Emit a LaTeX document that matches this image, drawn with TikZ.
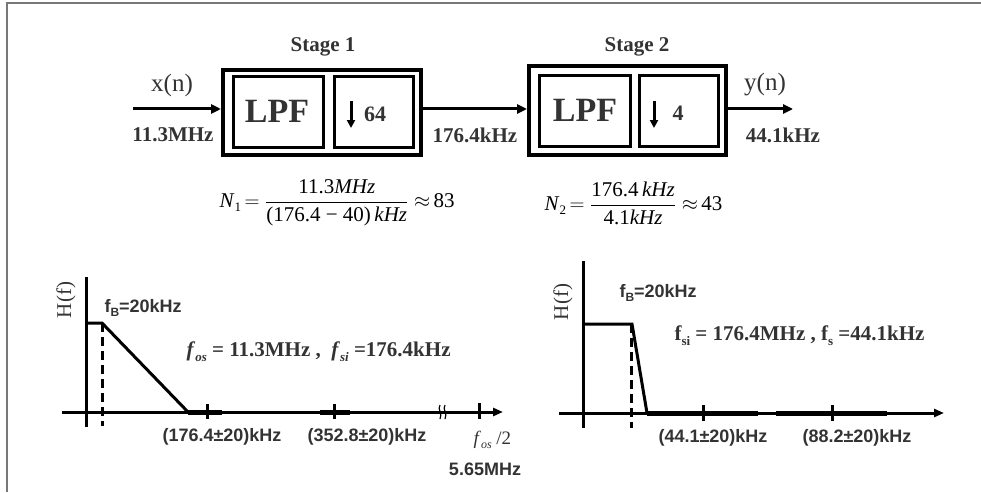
\documentclass[tikz,border=0pt]{standalone}
\usepackage{fontspec}
\setmainfont{Liberation Serif}
\newfontfamily\sfb{Liberation Sans}
\usetikzlibrary{arrows.meta}
\definecolor{txt}{RGB}{51,51,51}
\definecolor{framegray}{RGB}{120,120,120}
\newcommand{\myfs}[1]{\fontsize{#1}{#1}\selectfont}
\begin{document}
\begin{tikzpicture}[x=1pt,y=-1pt,
  outerbox/.style={draw,line width=4pt,inner sep=0pt},
  innerbox/.style={draw,line width=3.3pt,inner sep=0pt,minimum height=71pt},
  arr/.style={line width=3pt,-{Triangle[length=10pt,width=9pt]}},
  downarr/.style={line width=3pt,-{Triangle[length=8pt,width=8pt]}},
  stagelbl/.style={text=txt,font=\myfs{21}\bfseries},
  freqlbl/.style={text=txt,font=\myfs{21}\bfseries},
  siglbl/.style={text=txt,font=\myfs{25}},
  lpflbl/.style={text=txt,font=\myfs{34}\bfseries},
  dnlbl/.style={text=txt,font=\myfs{22}\bfseries},
  eqlbl/.style={text=black,font=\myfs{21},anchor=west},
  sflbl/.style={text=txt,font=\sfb\myfs{18}\bfseries},
  hlbl/.style={text=txt,font=\myfs{21},rotate=90},
  axisline/.style={line width=3pt},
  thickseg/.style={line width=5pt},
  tickline/.style={line width=3pt},
  dashline/.style={line width=3pt,dash pattern=on 9pt off 5pt}
]
\useasboundingbox (0,0) rectangle (981,492);
% frame
\draw[framegray,line width=2pt] (7,492) -- (7,3) -- (981,3);

% ---------- block diagram ----------
\node[outerbox,minimum width=198pt,minimum height=85pt] (s1) at (322,112.5) {};
\node[innerbox,minimum width=89.7pt] (lpf1) at (278.5,112) {};
\node[innerbox,minimum width=78.7pt] (dn1) at (374,112) {};
\node[outerbox,minimum width=197pt,minimum height=89pt] (s2) at (627.5,110.5) {};
\node[innerbox,minimum width=90.7pt] (lpf2) at (585,111) {};
\node[innerbox,minimum width=78.7pt] (dn2) at (679,111) {};

\node[stagelbl] (st1) at (323,47) {Stage 1};
\node[stagelbl] (st2) at (637,47) {Stage 2};
\node[lpflbl] (l1) at (277,111) {LPF};
\node[lpflbl] (l2) at (585,110) {LPF};
\draw[downarr] (351,101) -- (351,128);
\node[dnlbl] (r1) at (375,114) {64};
\draw[downarr] (654,101) -- (654,128);
\node[dnlbl] (r2) at (678,113) {4};

\coordinate (xin) at (133,109);
\coordinate (m1) at (423,109);
\coordinate (yout) at (793,109);
\draw[arr] (xin) -- (xin -| s1.west);
\draw[arr] (m1 -| s1.east) -- (m1 -| s2.west);
\draw[arr] (yout -| s2.east) -- (yout);

\node[siglbl] (xn) at (172,85) {x(n)};
\node[siglbl] (yn) at (765,85) {y(n)};
\node[freqlbl] (f1) at (173,135) {11.3MHz};
\node[freqlbl] (f2) at (475,135) {176.4kHz};
\node[freqlbl] (f3) at (783,135) {44.1kHz};

% equations
\node[eqlbl] (eq1) at (216,203) {\textit{N}\raisebox{-4pt}{\myfs{13}1}\,$\displaystyle =\frac{\mbox{11.3\textit{MHz}}}{\mbox{(176.4 − 40)\,\textit{kHz}}}\approx$\,83};
\node[eqlbl] (eq2) at (541,203) {\textit{N}\raisebox{-4pt}{\myfs{13}2}\,$\displaystyle =\frac{\mbox{176.4\,\textit{kHz}}}{\mbox{4.1\textit{kHz}}}\approx$\,43};

% ---------- left graph ----------
\draw[axisline] (86,277) -- (86,427);
\draw[axisline,-{Triangle[length=10pt,width=8pt]}] (62,412) -- (503,412);
\draw[axisline,line join=miter] (86,323) -- (102,323) -- (188,412);
\draw[dashline] (102,323) -- (102,426);
\draw[thickseg] (188,412) -- (222,412);
\draw[thickseg] (320,412) -- (350,412);
\draw[tickline] (207,404) -- (207,419);
\draw[tickline] (334,404) -- (334,419);
\draw[tickline] (479,403) -- (479,419);
\draw[line width=1.2pt] (440,405) .. controls (437,409) and (443,414) .. (440,419);
\draw[line width=1.2pt] (445,405) .. controls (442,409) and (448,414) .. (445,419);

\node[hlbl] (h1) at (66,300) {H(f)};
\node[sflbl,anchor=west] (fb1) at (101,308) {f\raisebox{-4pt}{\myfs{12}B}=20kHz};
\node[text=txt,font=\myfs{21}\bfseries,anchor=west] (fos) at (183,352)
  {\textit{f}\raisebox{-5pt}{\myfs{13}\textit{os}} = 11.3MHz ,\ \ \textit{f}\raisebox{-5pt}{\myfs{13}\textit{si}} =176.4kHz};
\node[sflbl] (a1) at (222,437) {(176.4±20)kHz};
\node[sflbl] (a2) at (367,437) {(352.8±20)kHz};
\node[text=txt,font=\myfs{19},anchor=west] (fh) at (470,440) {\textit{f}\raisebox{-4pt}{\myfs{12}\textit{os}} /2};
\node[sflbl] (a3) at (485,469) {5.65MHz};

% ---------- right graph ----------
\draw[axisline] (583,261) -- (583,428);
\draw[axisline,-{Triangle[length=10pt,width=8pt]}] (559,413) -- (944,413);
\draw[axisline,line join=miter] (583,324) -- (632,324) -- (647,413);
\draw[dashline] (631,324) -- (631,428);
\draw[thickseg] (647,413) -- (758,413);
\draw[thickseg] (776,413) -- (887,413);
\draw[tickline] (703,405) -- (703,421);
\draw[tickline] (832,405) -- (832,421);

\node[hlbl] (h2) at (563,302) {H(f)};
\node[sflbl,anchor=west] (fb2) at (616,293) {f\raisebox{-4pt}{\myfs{12}B}=20kHz};
\node[text=txt,font=\myfs{21}\bfseries,anchor=west] (fsi) at (671,336)
  {f\raisebox{-5pt}{\myfs{13}si} = 176.4MHz , f\raisebox{-5pt}{\myfs{13}s} =44.1kHz};
\node[sflbl] (b1) at (713,438) {(44.1±20)kHz};
\node[sflbl] (b2) at (857,438) {(88.2±20)kHz};
\end{tikzpicture}
\end{document}
